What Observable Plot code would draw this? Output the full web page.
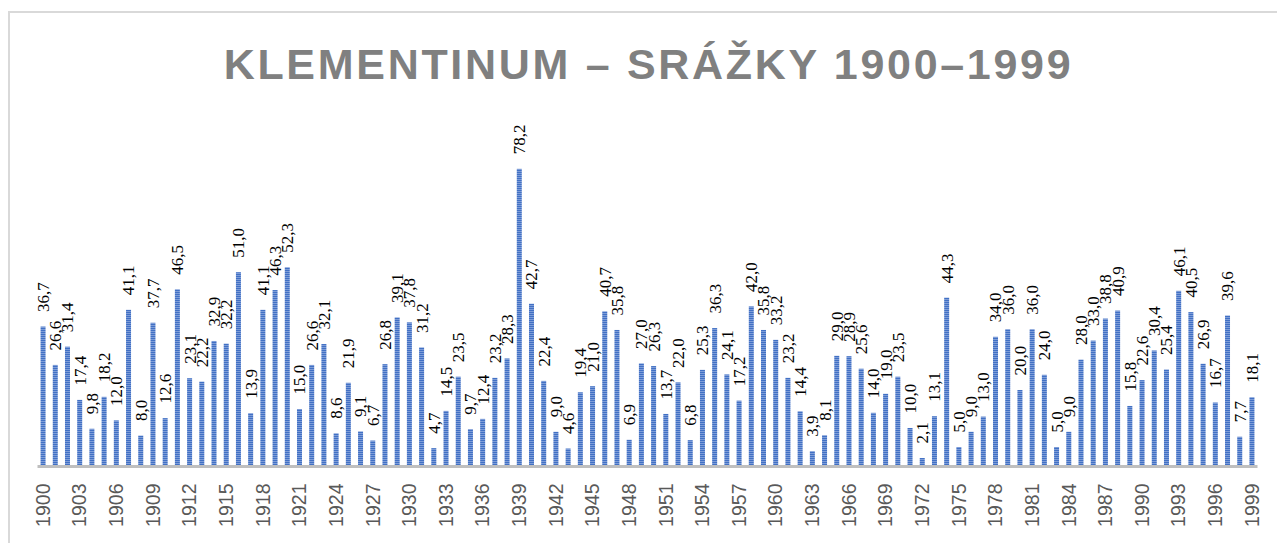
<!DOCTYPE html>
<html><head><meta charset="utf-8">
<script src="https://cdn.jsdelivr.net/npm/d3@7"></script>
<script src="https://cdn.jsdelivr.net/npm/@observablehq/plot@0.6"></script>
<style>
body{margin:0;background:#fff;}
#wrap{position:relative;width:1277px;height:543px;overflow:hidden;background:#fff;}
#frame{position:absolute;left:8px;top:11px;width:1400px;height:700px;border:2px solid #d9d9d9;box-sizing:border-box;}
#title{position:absolute;left:0;top:43px;width:1277px;text-align:center;font-family:"Liberation Sans",Arial,sans-serif;font-weight:bold;font-size:43px;letter-spacing:2.7px;color:#808080;line-height:43px;white-space:nowrap;padding-left:20px;box-sizing:border-box;}
#chart{position:absolute;left:0;top:100px;}
</style>
</head><body>
<div id="wrap">
  <div id="frame"></div>
  <div id="title">KLEMENTINUM – SRÁŽKY 1900–1999</div>
  <div id="chart"></div>
</div>
<script>
const years = d3.range(1900, 2000);
const precipitation = [
  36.7, 26.6, 31.4, 17.4, 9.8, 18.2, 12.0, 41.1, 8.0, 37.7,
  12.6, 46.5, 23.1, 22.2, 32.9, 32.2, 51.0, 13.9, 41.1, 46.3,
  52.3, 15.0, 26.6, 32.1, 8.6, 21.9, 9.1, 6.7, 26.8, 39.1,
  37.8, 31.2, 4.7, 14.5, 23.5, 9.7, 12.4, 23.2, 28.3, 78.2,
  42.7, 22.4, 9.0, 4.6, 19.4, 21.0, 40.7, 35.8, 6.9, 27.0,
  26.3, 13.7, 22.0, 6.8, 25.3, 36.3, 24.1, 17.2, 42.0, 35.8,
  33.2, 23.2, 14.4, 3.9, 8.1, 29.0, 28.9, 25.6, 14.0, 19.0,
  23.5, 10.0, 2.1, 13.1, 44.3, 5.0, 9.0, 13.0, 34.0, 36.0,
  20.0, 36.0, 24.0, 5.0, 9.0, 28.0, 33.0, 38.8, 40.9, 15.8,
  22.6, 30.4, 25.4, 46.1, 40.5, 26.9, 16.7, 39.6, 7.7, 18.1
];
const tickYears = [1900,1903,1906,1909,1912,1915,1918,1921,1924,1927,1930,1933,1936,1939,1942,1945,1948,1951,1954,1957,1960,1963,1966,1969,1972,1975,1978,1981,1984,1987,1990,1993,1996,1999];

const data = years.map((year, i) => ({year, value: precipitation[i]}));
const fmt = v => v.toFixed(1).replace(".", ",");

const chart = Plot.plot({
  width: 1277,
  height: 443,
  marginLeft: 37.5,
  marginRight: 19.5,
  marginTop: 62,
  marginBottom: 77,
  style: {fontFamily: "'Liberation Sans', Arial, sans-serif", fontSize: "19px", color: "#595959", background: "transparent", overflow: "visible"},
  x: {type: "band", domain: years, paddingInner: 0.59, paddingOuter: 0.25, round: false, label: null, axis: null},
  y: {domain: [0, 80], axis: null},
  marks: [
    Plot.barY(data, {x: "year", y: "value", fill: "url(#stripes)"}),
    Plot.ruleY([0], {stroke: "#bfbfbf", strokeWidth: 3}),
    Plot.text(data, {x: "year", y: "value", text: d => fmt(d.value), rotate: -90, textAnchor: "start", dy: -15, fontFamily: "'Liberation Serif', 'Times New Roman', serif", fontSize: 17, fill: "#000"}),
    Plot.axisX({ticks: tickYears, tickSize: 0, tickPadding: 17, tickRotate: -90, tickFormat: d => String(d), label: null, fontSize: 19.5, fill: "#595959"})
  ]
});

const ns = "http://www.w3.org/2000/svg";
const defs = document.createElementNS(ns, "defs");
defs.innerHTML = '<pattern id="stripes" width="4" height="2" patternUnits="userSpaceOnUse"><rect width="4" height="2" fill="#4170c4"/><rect y="1" width="4" height="1" fill="#7e9dd8"/></pattern>';
chart.insertBefore(defs, chart.firstChild);
document.getElementById("chart").appendChild(chart);
</script>
</body></html>
